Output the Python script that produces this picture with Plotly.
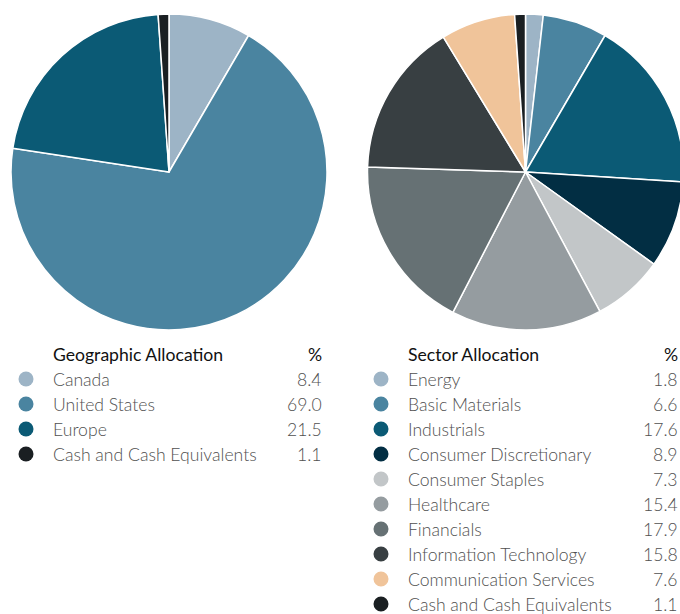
import plotly.graph_objects as go

geo_labels = ["Canada", "United States", "Europe", "Cash and Cash Equivalents"]
geo_values = [8.4, 69.0, 21.5, 1.1]
geo_colors = ["#9db4c6", "#4a84a0", "#0b5a75", "#1a1f22"]

sector_labels = ["Energy", "Basic Materials", "Industrials", "Consumer Discretionary",
                 "Consumer Staples", "Healthcare", "Financials", "Information Technology",
                 "Communication Services", "Cash and Cash Equivalents"]
sector_values = [1.8, 6.6, 17.6, 8.9, 7.3, 15.4, 17.9, 15.8, 7.6, 1.1]
sector_colors = ["#9db4c6", "#4a84a0", "#0b5a75", "#022e43", "#c2c6c8",
                 "#959ca0", "#667174", "#383f42", "#f0c49a", "#1a1f22"]

W, H = 690, 614
FONT = "Lato"
FS = 17.6

def px(x):
    return x / W

def py(y):
    return 1 - y / H

fig = go.Figure()
fig.add_trace(go.Pie(labels=geo_labels, values=geo_values, sort=False, direction="clockwise",
                     rotation=0, marker=dict(colors=geo_colors, line=dict(color="white", width=1.5)),
                     textinfo="none", hoverinfo="label+value", showlegend=False,
                     domain=dict(x=[px(11), px(327)], y=[py(330), py(14)])))
fig.add_trace(go.Pie(labels=sector_labels, values=sector_values, sort=False, direction="clockwise",
                     rotation=0, marker=dict(colors=sector_colors, line=dict(color="white", width=1.5)),
                     textinfo="none", hoverinfo="label+value", showlegend=False,
                     domain=dict(x=[px(367), px(684)], y=[py(330), py(14)])))

annotations = []
shapes = []

def table(title, labels, values, colors, x_dot, x_text, x_right):
    y0 = 354
    annotations.append(dict(x=px(x_text), y=py(y0), xref="paper", yref="paper", text=title,
                            showarrow=False, xanchor="left", yanchor="middle",
                            font=dict(family=FONT, size=FS, color="#111111")))
    annotations.append(dict(x=px(x_right), y=py(y0), xref="paper", yref="paper", text="%",
                            showarrow=False, xanchor="right", yanchor="middle",
                            font=dict(family=FONT, size=FS, color="#111111")))
    for i, (lab, val, col) in enumerate(zip(labels, values, colors)):
        yy = y0 + 25 * (i + 1)
        annotations.append(dict(x=px(x_text), y=py(yy), xref="paper", yref="paper", text=lab,
                                showarrow=False, xanchor="left", yanchor="middle",
                                font=dict(family=FONT, size=FS, color="#505050", weight=300)))
        annotations.append(dict(x=px(x_right), y=py(yy), xref="paper", yref="paper", text=f"{val:.1f}",
                                showarrow=False, xanchor="right", yanchor="middle",
                                font=dict(family=FONT, size=FS, color="#505050", weight=300)))
        r = 7.5
        shapes.append(dict(type="circle", xref="paper", yref="paper",
                           x0=px(x_dot - r), x1=px(x_dot + r), y0=py(yy + r), y1=py(yy - r),
                           fillcolor=col, line=dict(width=0)))

table("Geographic Allocation", geo_labels, geo_values, geo_colors, 26, 51, 324)
table("Sector Allocation", sector_labels, sector_values, sector_colors, 381, 406, 680)

fig.update_layout(width=W, height=H, margin=dict(l=0, r=0, t=0, b=0),
                  paper_bgcolor="white", plot_bgcolor="white",
                  annotations=annotations, shapes=shapes, showlegend=False)

fig.write_html("out.html", config={"displayModeBar": False},
               post_script="document.body.style.margin='0';document.body.style.overflow='hidden';")
